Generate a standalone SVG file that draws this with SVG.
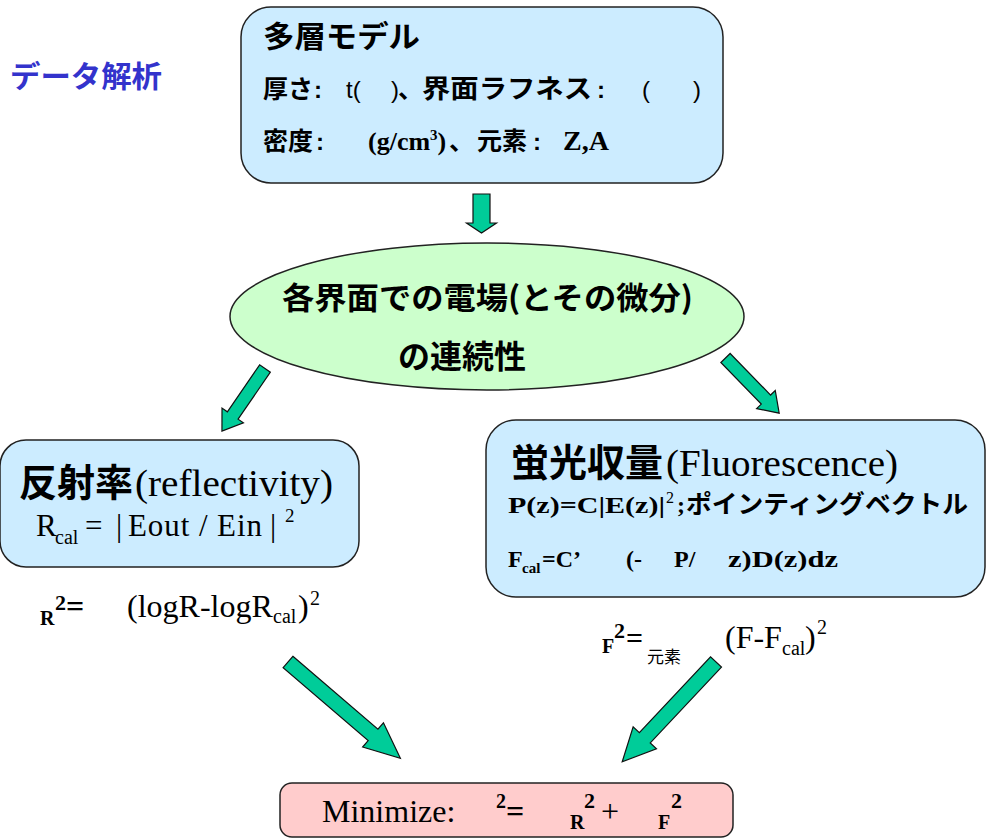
<svg xmlns="http://www.w3.org/2000/svg" width="987" height="839" viewBox="0 0 987 839">
<style>
.box{fill:#CCECFF;stroke:#222;stroke-width:1.5}
.ell{fill:#CCFFCC;stroke:#222;stroke-width:1.5}
.pink{fill:#FFCCCC;stroke:#222;stroke-width:1.5}
.arr{fill:#00CC99;stroke:#111;stroke-width:1.2;stroke-linejoin:miter}
.cj{font-family:"Noto Sans CJK JP","Noto Sans",sans-serif;font-weight:bold;fill:#000}
.cjr{font-family:"Noto Sans CJK JP","Noto Sans",sans-serif;fill:#000}
.sa{font-family:"Liberation Sans",Arial,sans-serif;fill:#000}
.se{font-family:"Liberation Serif","Times New Roman",serif;fill:#000}
.sb{font-family:"Liberation Serif","Times New Roman",serif;font-weight:bold;fill:#000}
</style>
<rect width="987" height="839" fill="#fff"/>

<g id="title">
<text class="cj" x="10" y="87" font-size="30" textLength="152" lengthAdjust="spacingAndGlyphs" style="fill:#3333CC">データ解析</text>
</g>

<g id="model">
<rect class="box" x="241" y="7" width="482" height="176" rx="30" ry="30"/>
<text class="cj" x="263" y="47" font-size="30" textLength="157" lengthAdjust="spacingAndGlyphs">多層モデル</text>
<text class="cj" x="263" y="98" font-size="25">厚さ</text>
<text class="sa" x="314" y="98" font-size="24" font-weight="bold">:</text>
<text class="sa" x="346" y="98" font-size="24">t(</text>
<text class="sa" x="391" y="98" font-size="24">)</text>
<text class="cj" x="398" y="98" font-size="25">、</text>
<text class="cj" x="422" y="98" font-size="26" textLength="170" lengthAdjust="spacingAndGlyphs">界面ラフネス</text>
<text class="sa" x="597" y="98" font-size="24" font-weight="bold">:</text>
<text class="sa" x="642" y="98" font-size="24">(</text>
<text class="sa" x="693" y="98" font-size="24">)</text>
<text class="cj" x="263" y="150" font-size="25">密度</text>
<text class="sa" x="316" y="150" font-size="24" font-weight="bold">:</text>
<text class="sb" x="368" y="150" font-size="26">(g/cm<tspan font-size="15" dy="-10">3</tspan><tspan dy="10">)</tspan></text>
<text class="cj" x="449" y="150" font-size="25">、</text>
<text class="cj" x="477" y="150" font-size="25">元素</text>
<text class="sa" x="533" y="150" font-size="24" font-weight="bold">:</text>
<text class="sb" x="563" y="150" font-size="28">Z,A</text>
</g>

<g id="continuity">
<ellipse class="ell" cx="487" cy="316.5" rx="257" ry="73.5"/>
<text class="cj" x="282" y="309" font-size="31" textLength="411" lengthAdjust="spacingAndGlyphs">各界面での電場(とその微分)</text>
<text class="cj" x="398" y="368" font-size="32">の連続性</text>
</g>

<g id="reflectivity">
<rect class="box" x="0" y="440" width="359" height="127" rx="26" ry="26"/>
<text class="cj" x="19" y="496" font-size="38">反射率</text>
<text class="se" x="135" y="496" font-size="38" textLength="198" lengthAdjust="spacingAndGlyphs">(reflectivity)</text>
<text class="se" x="36" y="536" font-size="31">R</text>
<text class="se" x="55" y="544" font-size="20">cal</text>
<text class="se" x="85" y="536" font-size="31">=</text>
<text class="se" x="116" y="536" font-size="31">|</text>
<text class="se" x="128" y="536" font-size="31" textLength="134">Eout / Ein</text>
<text class="se" x="270" y="536" font-size="31">|</text>
<text class="se" x="285" y="522" font-size="19">2</text>
</g>

<g id="chiR">
<text class="sb" x="40" y="625" font-size="20">R</text>
<text class="sb" x="55" y="610" font-size="22">2</text>
<text class="sb" x="66" y="617" font-size="32">=</text>
<text class="se" x="127" y="617" font-size="32">(logR-logR</text>
<text class="se" x="273" y="623" font-size="20">cal</text>
<text class="se" x="298" y="617" font-size="32">)</text>
<text class="se" x="310" y="605" font-size="20">2</text>
</g>

<g id="fluorescence">
<rect class="box" x="486" y="420" width="499" height="177" rx="30" ry="30"/>
<text class="cj" x="511" y="476" font-size="38">蛍光収量</text>
<text class="se" x="666" y="476" font-size="38" textLength="232" lengthAdjust="spacingAndGlyphs">(Fluorescence)</text>
<text class="sb" x="508" y="513" font-size="24" textLength="157" lengthAdjust="spacingAndGlyphs">P(z)=C|E(z)|</text>
<text class="se" x="666" y="503" font-size="16">2</text>
<text class="sb" x="677" y="513" font-size="24">;</text>
<text class="cj" x="686" y="513" font-size="25" textLength="282" lengthAdjust="spacingAndGlyphs">ポインティングベクトル</text>
<text class="sb" x="508" y="567" font-size="24">F</text>
<text class="sb" x="522" y="573" font-size="15">cal</text>
<text class="sb" x="542" y="567" font-size="24">=C’</text>
<text class="sb" x="626" y="567" font-size="24">(-</text>
<text class="sb" x="674" y="567" font-size="24">P/</text>
<text class="sb" x="728" y="567" font-size="24" textLength="110" lengthAdjust="spacingAndGlyphs">z)D(z)dz</text>
</g>

<g id="chiF">
<text class="sb" x="602" y="653" font-size="20">F</text>
<text class="sb" x="614" y="638" font-size="22">2</text>
<text class="sb" x="626" y="648" font-size="30">=</text>
<text class="cjr" x="647" y="663" font-size="17">元素</text>
<text class="se" x="725" y="648" font-size="32">(F-F</text>
<text class="se" x="782" y="655" font-size="20">cal</text>
<text class="se" x="805" y="648" font-size="32">)</text>
<text class="se" x="817" y="634" font-size="20">2</text>
</g>

<g id="minimize">
<rect class="pink" x="280" y="783" width="453" height="54" rx="12" ry="12"/>
<text class="se" x="322" y="822" font-size="32">Minimize:</text>
<text class="sb" x="496" y="808" font-size="20">2</text>
<text class="sb" x="506" y="822" font-size="32">=</text>
<text class="sb" x="570" y="829" font-size="20">R</text>
<text class="sb" x="584" y="808" font-size="22">2</text>
<text class="se" x="601" y="822" font-size="32">+</text>
<text class="sb" x="658" y="829" font-size="20">F</text>
<text class="sb" x="671" y="808" font-size="22">2</text>
</g>

<g id="connectors">
<path class="arr" transform="translate(481.5,194) rotate(90)" d="M0,-8.5 L29,-8.5 L29,-15 L39,0 L29,15 L29,8.5 L0,8.5 Z"/>
<path class="arr" transform="translate(265,368.5) rotate(124.5)" d="M0,-6.5 L57,-6.5 L57,-13 L76,0 L57,13 L57,6.5 L0,6.5 Z"/>
<path class="arr" transform="translate(725.5,358) rotate(45.8)" d="M0,-6.5 L58,-6.5 L58,-13 L77,0 L58,13 L58,6.5 L0,6.5 Z"/>
<path class="arr" transform="translate(288,662) rotate(40.6)" d="M0,-7.5 L112,-7.5 L112,-16 L148,0 L112,16 L112,7.5 L0,7.5 Z"/>
<path class="arr" transform="translate(716,662) rotate(133.2)" d="M0,-7.5 L104,-7.5 L104,-16 L137,0 L104,16 L104,7.5 L0,7.5 Z"/>
</g>
</svg>
